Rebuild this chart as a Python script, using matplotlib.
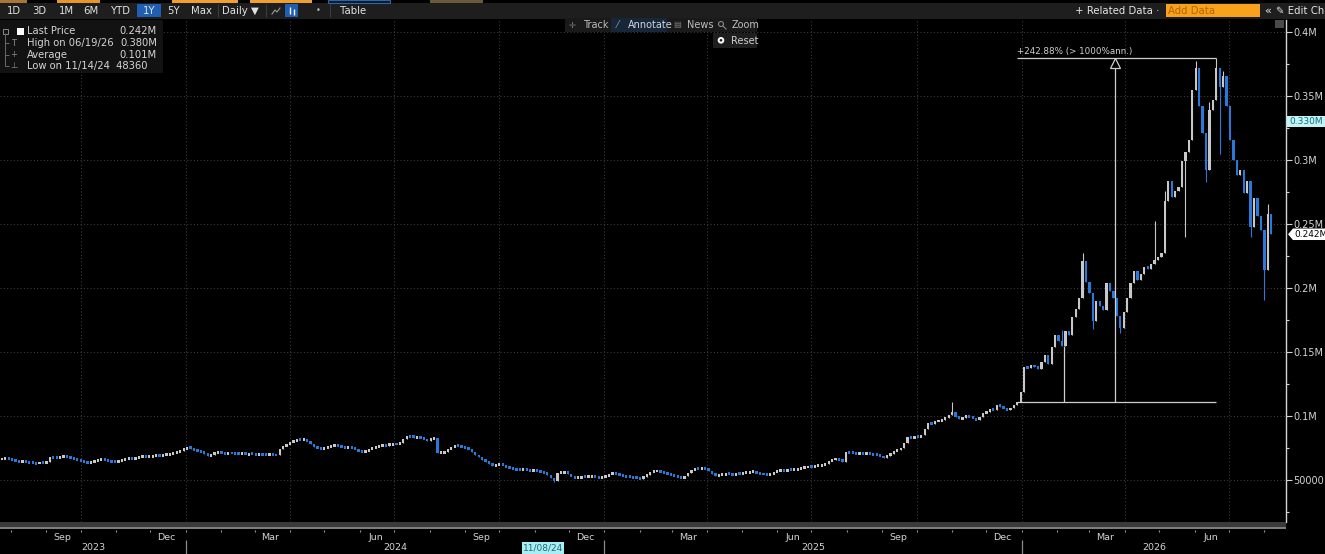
import numpy as np
import pandas as pd
import matplotlib
matplotlib.use("Agg")
import matplotlib.pyplot as plt  # noqa: E402
import matplotlib.dates as mdates  # noqa: E402
from matplotlib.patches import Rectangle, Polygon, Circle  # noqa: E402
from matplotlib.transforms import blended_transform_factory  # noqa: E402

plt.rcParams["font.family"] = ["Liberation Sans Narrow", "DejaVu Sans"]

# ---- data ------------------------------------------------------------------
START = "2023-07-24"          # first candle, one candle per 3 calendar days
STEP = "3D"
CLOSE_K = [  # closes, thousands
    66.4, 66.9, 66.2, 65.8, 65.0, 64.6, 64.9, 64.2, 63.5, 63.2,
    63.0, 63.6, 63.3, 64.0, 67.9, 67.5, 67.2, 67.8, 68.3, 67.9,
    67.2, 66.4, 65.9, 65.0, 64.3, 63.5, 64.2, 64.8, 65.5, 66.0,
    65.6, 64.9, 64.3, 64.0, 64.8, 65.5, 66.3, 66.9, 66.5, 67.6,
    67.9, 68.4, 68.1, 68.6, 68.8, 69.3, 68.9, 69.6, 69.9, 70.0,
    70.8, 71.9, 73.0, 74.2, 75.5, 74.6, 73.4, 72.8, 72.0, 70.6,
    68.8, 69.9, 71.0, 71.6, 71.2, 70.7, 71.3, 70.9, 70.8, 70.4,
    70.6, 70.1, 70.5, 70.3, 69.8, 70.4, 70.2, 69.7, 70.0, 69.6,
    69.5, 74.0, 76.2, 78.0, 79.6, 80.7, 81.5, 81.2, 81.8, 80.1,
    78.0, 76.0, 75.1, 74.2, 75.0, 76.1, 76.4, 77.0, 76.2, 75.8,
    75.2, 75.5, 74.8, 73.9, 72.6, 71.6, 72.8, 73.9, 75.1, 76.0,
    76.4, 77.2, 76.9, 77.9, 78.3, 78.0, 79.0, 81.8, 84.6, 84.1,
    83.2, 83.8, 82.9, 81.8, 80.7, 81.9, 82.5, 70.8, 71.5, 72.0,
    74.1, 75.8, 77.3, 76.6, 75.9, 75.0, 74.0, 72.1, 69.8, 67.7,
    66.0, 64.1, 62.6, 61.0, 61.7, 62.5, 61.4, 60.1, 59.0, 58.7,
    58.2, 57.8, 58.4, 57.6, 57.1, 57.8, 57.2, 56.4, 55.7, 54.2,
    51.8, 49.5, 55.2, 55.9, 56.5, 54.8, 52.9, 51.3, 52.0, 52.6,
    52.2, 52.8, 53.0, 52.5, 51.9, 52.0, 53.1, 54.4, 55.7, 54.9,
    54.0, 53.4, 52.8, 52.6, 51.9, 51.3, 50.8, 52.4, 54.3, 55.9,
    56.8, 57.3, 56.4, 55.6, 54.7, 53.9, 53.0, 52.1, 51.3, 53.2,
    55.6, 57.8, 59.1, 58.6, 59.3, 59.1, 57.2, 55.0, 53.0, 53.8,
    54.2, 54.9, 54.7, 54.3, 55.0, 54.7, 55.3, 55.8, 56.1, 56.5,
    55.8, 55.0, 54.4, 53.9, 54.8, 55.9, 56.7, 57.8, 57.5, 58.1,
    57.9, 58.3, 58.8, 59.4, 59.9, 60.4, 60.1, 60.8, 61.3, 61.7,
    62.9, 64.6, 65.8, 67.0, 65.6, 64.3, 72.0, 71.4, 70.9, 70.8,
    71.2, 70.6, 70.9, 70.3, 70.0, 69.4, 68.5, 67.5, 68.8, 70.6,
    72.4, 73.8, 74.7, 78.6, 83.8, 82.9, 84.1, 83.4, 85.0, 89.5,
    94.3, 93.6, 95.8, 96.4, 96.9, 98.5, 100.8, 103.5, 99.6, 98.0,
    98.8, 99.9, 99.5, 98.1, 96.9, 99.2, 102.0, 103.5, 105.4, 104.6,
    108.6, 107.4, 106.0, 104.7, 106.3, 108.8, 110.7, 119.0, 138.5, 137.2,
    139.8, 138.4, 137.0, 142.5, 147.7, 141.0, 154.0, 163.0, 158.5, 155.0,
    166.5, 163.0, 177.6, 184.0, 192.0, 221.0, 205.0, 196.0, 174.0, 190.0,
    186.0, 183.0, 204.0, 198.0, 192.0, 178.0, 169.0, 181.0, 192.0, 204.0,
    213.0, 206.0, 211.0, 216.6, 215.0, 219.0, 222.0, 224.0, 227.0, 268.0,
    284.0, 271.0, 276.0, 279.0, 299.0, 306.0, 316.0, 355.0, 372.0, 342.0,
    321.0, 292.0, 339.0, 347.0, 372.0, 357.0, 366.0, 342.0, 316.0, 300.0,
    288.0, 292.0, 274.0, 284.0, 248.0, 270.0, 256.0, 245.0, 214.0, 258.0, 242.0,
]
# candles whose wick reaches past the body (index, value in thousands)
WICK_HI_IDX = [277, 309, 315, 336, 339, 348, 352, 354, 356, 369]
WICK_HI_K = [111.0, 167.0, 227.0, 252.0, 276.0, 377.0, 345.0, 379.7, 369.5, 266.0]
WICK_LO_IDX = [161, 318, 326, 345, 351, 355, 364, 368]
WICK_LO_K = [48.4, 168.0, 165.0, 240.0, 283.0, 305.0, 240.0, 191.0]

# measured-move annotation: low candle -> high candle
ANN_LOW_IDX, ANN_HIGH_IDX = 296, 354
ANN_TEXT = "+242.88% (> 1000%ann.)"
ANN_ARROW_DATE = "2026-03-23"
ANN_TICK_DATE, ANN_TICK_TOP = "2026-02-07", 155000

YTICKS = [50000, 100000, 150000, 200000, 250000, 300000, 350000, 400000]
YTICK_LABELS = ["50000", "0.1M", "0.15M", "0.2M", "0.25M", "0.3M", "0.35M", "0.4M"]
CROSS_VALUE, CROSS_LABEL = 330000, "0.330M"
LAST_LABEL = "0.242M"

LEGEND_NAMES = ["Last Price", "High on 06/19/26", "Average", "Low on 11/14/24  48360"]
LEGEND_VALUES = ["0.242M", "0.380M", "0.101M", ""]

QUARTER_MONTHS = ["2023-09", "2023-12", "2024-03", "2024-06", "2024-09", "2024-12",
                  "2025-03", "2025-06", "2025-09", "2025-12", "2026-03", "2026-06"]
QUARTER_LABELS = ["Sep", "Dec", "Mar", "Jun", "Sep", "Dec",
                  "Mar", "Jun", "Sep", "Dec", "Mar", "Jun"]
YEARS = [2023, 2024, 2025, 2026]
CURSOR_DATE, CURSOR_LABEL = "2024-11-08", "11/08/24"

XLIM = ("2023-07-22 10:00", "2026-08-19 22:00")
YLIM = (17200, 409400)

# ---- style ------------------------------------------------------------------
W, H = 1325, 554
UP, DOWN = "#c8c8c8", "#2a78d8"
GRID = "#3a3a3a"
TXT = "#d4d4d4"

fig = plt.figure(figsize=(W / 100, H / 100), dpi=100, facecolor="black")
AX_R, AX_T, AX_B = 1286, 20, 522
ax = fig.add_axes([0, 1 - AX_B / H, AX_R / W, (AX_B - AX_T) / H])
ax.set_facecolor("black")
x0, x1 = (mdates.date2num(pd.Timestamp(t)) for t in XLIM)
ax.set_xlim(x0, x1)
ax.set_ylim(*YLIM)

# grid
for y in YTICKS:
    ax.axhline(y, color=GRID, lw=0.8, ls=(0, (1, 2)), zorder=0)
for d in pd.date_range("2023-10-01", "2026-07-01", freq="QS"):
    ax.axvline(mdates.date2num(d), color=GRID, lw=0.8, ls=(0, (1, 2)), zorder=0)

# candles: open = previous close
dates = pd.date_range(START, periods=len(CLOSE_K), freq=STEP)
xs = mdates.date2num(dates)
close = np.array(CLOSE_K) * 1000
opn = np.r_[close[0], close[:-1]]
hi = np.maximum(opn, close)
lo = np.minimum(opn, close)
hi[WICK_HI_IDX] = np.maximum(hi[WICK_HI_IDX], np.array(WICK_HI_K) * 1000)
lo[WICK_LO_IDX] = np.minimum(lo[WICK_LO_IDX], np.array(WICK_LO_K) * 1000)
cols = np.where(close >= opn, UP, DOWN)
ax.vlines(xs, lo, hi, colors=cols, lw=0.8, zorder=2)
span = np.abs(close - opn)
body = np.maximum(span, 2300)   # keep tiny candles visible
ax.bar(xs, body, width=2.0, bottom=np.minimum(opn, close) - (body - span) / 2,
       color=cols, lw=0, zorder=3)

# right price axis
ax.yaxis.tick_right()
ax.set_yticks(YTICKS, YTICK_LABELS)
ax.set_yticks([v + 25000 for v in YTICKS[:-1]] + [25000], minor=True)
ax.tick_params(axis="y", which="major", colors=TXT, labelsize=7, length=4,
               width=0.8, pad=1.5)
ax.tick_params(axis="y", which="minor", colors=TXT, length=2.5, width=0.8)
ax.set_xticks([])
for s in ("top", "left", "bottom"):
    ax.spines[s].set_visible(False)
ax.spines["right"].set_color(TXT)
ax.spines["right"].set_linewidth(1.0)

# measured-move annotation
a_lo, a_hi = close[ANN_LOW_IDX], hi[ANN_HIGH_IDX]
xa, xb = xs[ANN_LOW_IDX], xs[ANN_HIGH_IDX]
xm = mdates.date2num(pd.Timestamp(ANN_ARROW_DATE))
xt = mdates.date2num(pd.Timestamp(ANN_TICK_DATE))
lc = "#cfcfcf"
ax.hlines([a_lo, a_hi], xa, xb, color=lc, lw=0.9, zorder=4)
ax.vlines(xm, a_lo, a_hi - 6000, color=lc, lw=0.9, zorder=4)
ax.vlines(xt, a_lo, ANN_TICK_TOP, color=lc, lw=0.9, zorder=4)
ax.plot([xm], [a_hi - 4200], marker="^", ms=6.5, mfc="black", mec=lc, mew=0.9, zorder=5)
ax.text(xa, a_hi + 1200, ANN_TEXT, color=lc, fontsize=6.3, ha="left", va="bottom")

# value badges on the price axis
tr = blended_transform_factory(ax.transAxes, ax.transData)
bw = (W - AX_R) / AX_R
ax.add_patch(Rectangle((1.0008, CROSS_VALUE - 4300), bw, 8600, transform=tr,
                       fc="#c4f4f4", ec="none", clip_on=False, zorder=6))
ax.text(1.0025, CROSS_VALUE, CROSS_LABEL, transform=tr, color="#117080",
        fontsize=6.5, va="center", ha="left", clip_on=False, zorder=7)
v = close[-1]
ax.add_patch(Polygon([(1.0016, v), (1.0054, v + 4500), (1.04, v + 4500),
                      (1.04, v - 4500), (1.0054, v - 4500)], closed=True,
                     transform=tr, fc="white", ec="none", clip_on=False, zorder=6))
ax.text(1.0062, v, LAST_LABEL, transform=tr, color="black", fontsize=6.5,
        va="center", ha="left", clip_on=False, zorder=7)

# ---- bottom date strip --------------------------------------------------------
sx = fig.add_axes([0, 0, AX_R / W, (H - AX_B) / H])
sx.set_xlim(x0, x1)
sx.set_ylim(H - AX_B, 0)
sx.axis("off")
sx.add_patch(Rectangle((x0, 0), x1 - x0, 4.5, fc="#3a3a3a", ec="none"))
sx.hlines(6, x0, x1, color="#8c8c8c", lw=1.3)
months = mdates.date2num(pd.date_range("2023-08-01", "2026-08-01", freq="MS"))
sx.vlines(months, 7.5, 10, color="#9a9a9a", lw=0.8)
for m, lab in zip(QUARTER_MONTHS, QUARTER_LABELS):
    sx.text(mdates.date2num(pd.Timestamp(m + "-15")), 15, lab, color=TXT,
            fontsize=6.8, ha="center", va="center")
for yr in YEARS:
    a = max(x0, mdates.date2num(pd.Timestamp(f"{yr}-01-01")))
    b = min(x1, mdates.date2num(pd.Timestamp(f"{yr + 1}-01-01")))
    sx.text((a + b) / 2, 26, str(yr), color=TXT, fontsize=6.8, ha="center", va="center")
    if yr > YEARS[0]:
        sx.vlines(a, 18, 32, color="#8a8a8a", lw=0.9)
xc = mdates.date2num(pd.Timestamp(CURSOR_DATE))
sx.add_patch(Rectangle((xc - 18.5, 19.5), 37, 12, fc="#a9eef2", ec="none"))
sx.text(xc, 26, CURSOR_LABEL, color="#1d6a7a", fontsize=6.5, ha="center", va="center")

# ---- terminal chrome (pixel coordinates) ------------------------------------
ov = fig.add_axes([0, 0, 1, 1])
ov.set_xlim(0, W)
ov.set_ylim(H, 0)
ov.axis("off")
ov.patch.set_alpha(0)

ov.add_patch(Rectangle((0, 3), W, 15.5, fc="#1e1e1e", ec="none"))
for a, b, c in [(0, 27, "#a8753a"), (57, 100, "#e8962a"), (172, 238, "#f0a030"),
                (250, 312, "#f0a030"), (430, 483, "#6b5a3a")]:
    ov.add_patch(Rectangle((a, 0), b - a, 2.6, fc=c, ec="none"))
ov.add_patch(Rectangle((328, 0), 62, 2.6, fc="#101820", ec="#2a66a8", lw=0.8))

ov.add_patch(Rectangle((137, 4), 24, 13, fc="#1f5fb3", ec="none"))
ov.add_patch(Rectangle((285, 4), 13, 13, fc="#1f5fb3", ec="none"))
for lab, xp in [("1D", 14), ("3D", 39), ("1M", 66), ("6M", 91), ("YTD", 121),
                ("1Y", 149), ("5Y", 174), ("Max", 202), ("Daily ▼", 240),
                ("Table", 353)]:
    ov.text(xp, 10.5, lab, color="#e2e2e2", fontsize=7.3, ha="center", va="center")
for xp in (218, 266, 330):
    ov.vlines(xp, 4, 17, color="#3c3c3c", lw=0.8)
ov.plot([272, 275, 277, 280], [14, 10, 12, 8], color="#9a9a9a", lw=0.8)
ov.vlines([289.5, 293.5], [7, 9], [14, 15], color="white", lw=1.0)
ov.text(318, 10.5, "•", color="#bbbbbb", fontsize=6, ha="center", va="center")

ov.text(1075, 10.5, "+ Related Data ·", color="#e6e6e6", fontsize=7.3, va="center")
ov.add_patch(Rectangle((1166, 4), 94, 12.5, fc="#f7a11c", ec="none"))
ov.text(1168, 10.5, "Add Data", color="#b86400", fontsize=7.3, va="center")
ov.text(1264, 10.5, "«", color="#e6e6e6", fontsize=8, va="center")
ov.text(1324, 10.5, "✎ Edit Ch", color="#e6e6e6", fontsize=7.3, ha="right", va="center")

# chart tools
ov.add_patch(Rectangle((565, 18), 192, 14, fc="#1a1a1a", ec="none"))
ov.add_patch(Rectangle((611, 18), 56, 14, fc="#172638", ec="none"))
ov.text(572, 25, "✛", color="#777777", fontsize=6, ha="center", va="center")
ov.text(583, 25, "Track", color="#bdbdbd", fontsize=7, va="center")
ov.text(618, 25, "⁄", color="#8aa0b8", fontsize=7, ha="center", va="center")
ov.text(628, 25, "Annotate", color="#cdd6e0", fontsize=7, va="center")
ov.text(677, 25, "▤", color="#777777", fontsize=6, ha="center", va="center")
ov.text(687, 25, "News", color="#bdbdbd", fontsize=7, va="center")
ov.add_patch(Circle((721, 24), 2.5, fc="none", ec="#888888", lw=0.8))
ov.plot([723, 726], [26, 29], color="#888888", lw=0.8)
ov.text(732, 25, "Zoom", color="#bdbdbd", fontsize=7, va="center")
ov.add_patch(Rectangle((713, 33), 44, 14.5, fc="#1e1e1e", ec="none"))
ov.add_patch(Circle((721, 40.3), 3.3, fc="white", ec="none"))
ov.add_patch(Circle((721, 40.3), 1.3, fc="#1e1e1e", ec="none"))
ov.text(731, 40.5, "Reset", color="#cfcfcf", fontsize=7, va="center")
ov.add_patch(Rectangle((1275, 20), 9, 8, fc="#4a4a4a", ec="none"))

# legend box
ov.add_patch(Rectangle((0, 20), 163, 53, fc="#121212", ec="none"))
rows = [31.5, 43, 54.5, 66]
ov.vlines(5, 33, 66, color="#6a6a6a", lw=0.7)
ov.hlines(rows[1:], 5, 9, color="#6a6a6a", lw=0.7)
ov.add_patch(Rectangle((2.5, 28.5), 5, 5, fc="none", ec="#8a8a8a", lw=0.7))
ov.add_patch(Rectangle((16.5, 27.5), 7.5, 7.5, fc="white", ec="none"))
for r, g in zip(rows[1:], ["T", "+", "⊥"]):
    ov.text(14, r, g, color="#8a8a8a", fontsize=6, ha="center", va="center")
for r, name, val in zip(rows, LEGEND_NAMES, LEGEND_VALUES):
    ov.text(27, r, name, color=TXT, fontsize=7.2, va="center")
    if val:
        ov.text(157, r, val, color=TXT, fontsize=7.2, ha="right", va="center")

fig.savefig("out.png", dpi=100, facecolor="black")
